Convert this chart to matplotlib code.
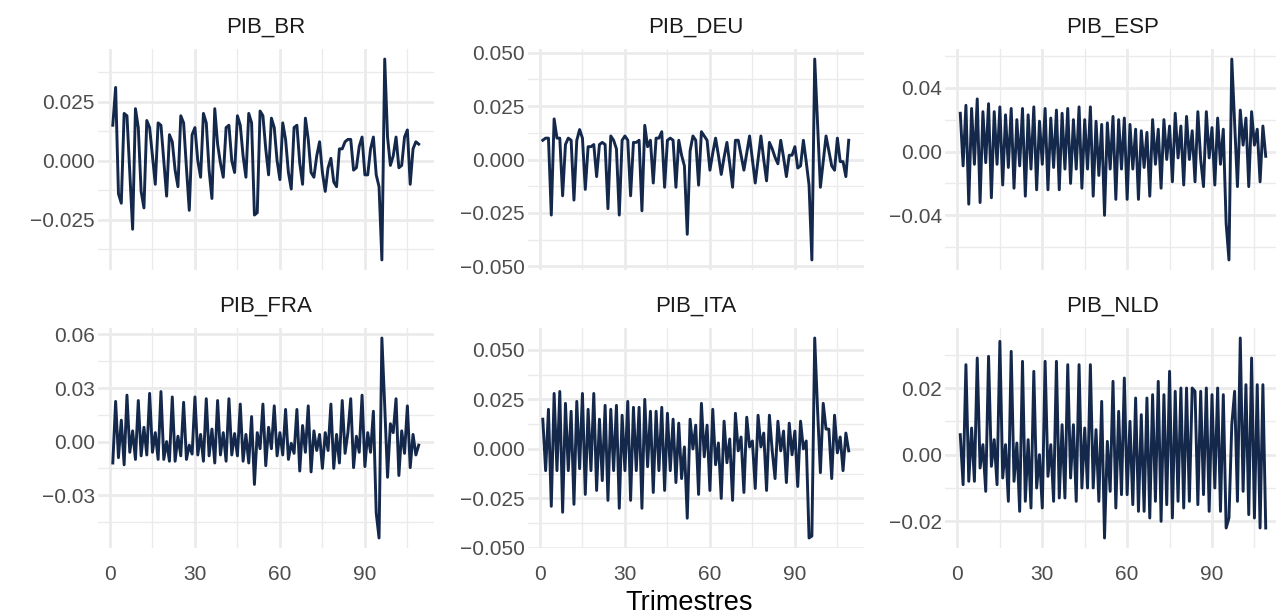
import matplotlib
matplotlib.use("Agg")
import matplotlib.pyplot as plt
from matplotlib.ticker import FixedLocator, FuncFormatter

plt.rcParams['font.family'] = ['Liberation Sans', 'DejaVu Sans']

# quarterly GDP growth (log-diff) by country, t = 1..109
pib_br = [0.015, 0.031, -0.014, -0.018, 0.020, 0.019, -0.005, -0.029, 0.022, 0.014,
          -0.013, -0.020, 0.017, 0.014, 0.002, -0.010, 0.016, 0.015, 0.000, -0.015,
          0.011, 0.008, -0.004, -0.011, 0.019, 0.016, -0.003, -0.021, 0.011, 0.014,
          0.000, -0.007, 0.020, 0.016, -0.004, -0.016, 0.022, 0.007, -0.001, -0.007,
          0.014, 0.015, 0.000, -0.005, 0.019, 0.015, 0.002, -0.007, 0.020, 0.016,
          -0.023, -0.022, 0.021, 0.019, 0.005, -0.006, 0.018, 0.014, 0.000, -0.008,
          0.016, 0.009, -0.005, -0.012, 0.014, 0.015, -0.001, -0.010, 0.018, 0.009,
          -0.005, -0.007, 0.002, 0.008, -0.005, -0.013, -0.003, 0.001, -0.009, -0.011,
          0.005, 0.005, 0.008, 0.009, 0.009, -0.004, -0.003, 0.006, 0.010, -0.006,
          -0.006, 0.005, 0.010, -0.006, -0.011, -0.042, 0.043, 0.010, -0.002, 0.002,
          0.010, -0.003, -0.002, 0.010, 0.013, -0.010, 0.005, 0.008, 0.007]

pib_deu = [0.009, 0.010, 0.010, -0.026, 0.019, 0.010, 0.010, -0.017, 0.007, 0.010,
           0.009, -0.019, 0.009, 0.014, 0.010, -0.014, 0.006, 0.006, 0.007, -0.008,
           0.007, 0.008, 0.007, -0.023, 0.011, 0.009, 0.005, -0.026, 0.009, 0.011,
           0.009, -0.017, 0.008, 0.008, 0.009, -0.024, 0.016, 0.006, 0.009, -0.011,
           0.010, 0.010, 0.013, -0.013, 0.009, 0.010, 0.009, -0.013, 0.009, 0.002,
           -0.003, -0.035, 0.004, 0.011, 0.009, -0.012, 0.013, 0.011, 0.009, -0.005,
           0.003, 0.010, 0.002, -0.007, 0.001, 0.008, -0.002, -0.013, 0.009, 0.009,
           0.002, -0.005, 0.003, 0.011, 0.000, -0.011, 0.000, 0.011, 0.000, -0.010,
           0.008, 0.005, 0.001, -0.002, 0.009, 0.001, -0.008, 0.002, 0.002, 0.006,
           -0.004, -0.003, 0.009, -0.001, -0.012, -0.047, 0.047, 0.017, -0.013, -0.001,
           0.011, 0.004, -0.003, -0.005, 0.010, -0.001, -0.001, -0.008, 0.009]

pib_esp = [0.024, -0.009, 0.029, -0.033, 0.027, -0.008, 0.033, -0.032, 0.025, -0.007,
           0.030, -0.029, 0.025, -0.008, 0.028, -0.021, 0.023, -0.010, 0.027, -0.023,
           0.020, -0.009, 0.027, -0.028, 0.023, -0.011, 0.028, -0.024, 0.019, -0.008,
           0.027, -0.024, 0.021, -0.010, 0.026, -0.024, 0.024, -0.011, 0.027, -0.020,
           0.020, -0.011, 0.028, -0.023, 0.020, -0.011, 0.028, -0.028, 0.019, -0.015,
           0.017, -0.040, 0.018, -0.011, 0.022, -0.030, 0.020, -0.011, 0.021, -0.030,
           0.017, -0.011, 0.014, -0.030, 0.013, -0.010, 0.012, -0.028, 0.020, -0.008,
           0.014, -0.023, 0.020, -0.005, 0.016, -0.019, 0.024, -0.004, 0.016, -0.021,
           0.022, -0.005, 0.013, -0.019, 0.025, -0.005, -0.022, 0.025, -0.004, 0.015,
           -0.021, 0.021, -0.008, 0.014, -0.045, -0.068, 0.058, 0.018, -0.022, 0.026,
           0.004, 0.021, -0.022, 0.025, 0.004, 0.014, -0.019, 0.016, -0.003]

pib_fra = [-0.012, 0.0225, -0.009, 0.012, -0.013, 0.026, -0.006, 0.006, -0.010, 0.023,
           -0.008, 0.008, -0.0075, 0.027, -0.006, 0.005, -0.010, 0.028, -0.010, 0.000,
           -0.011, 0.025, -0.011, 0.003, -0.008, 0.022, -0.010, -0.002, -0.007, 0.025,
           -0.0075, 0.004, -0.011, 0.024, -0.008, 0.007, -0.012, 0.023, -0.0075, 0.005,
           -0.011, 0.024, -0.0075, 0.0045, -0.008, 0.021, -0.011, 0.004, -0.012, 0.014,
           -0.024, 0.005, -0.004, 0.021, -0.0135, 0.008, -0.004, 0.020, -0.008, 0.005,
           -0.0075, 0.018, -0.010, -0.001, -0.0066, 0.018, -0.0165, 0.009, -0.006, 0.020,
           -0.017, 0.006, -0.005, 0.004, -0.015, 0.005, -0.005, 0.021, -0.015, 0.004,
           -0.012, 0.023, -0.0066, 0.005, 0.024, -0.0146, 0.003, -0.006, 0.026, -0.014,
           0.005, -0.006, 0.017, -0.040, -0.054, 0.058, 0.020, -0.020, 0.010, 0.005,
           0.024, -0.019, 0.006, -0.0066, 0.020, -0.0146, 0.004, -0.0075, -0.002]

pib_ita = [0.015, -0.011, 0.020, -0.029, 0.028, -0.011, 0.029, -0.032, 0.023, -0.011,
           0.019, -0.028, 0.024, -0.010, 0.028, -0.023, 0.020, -0.011, 0.028, -0.021,
           0.015, -0.016, 0.022, -0.026, 0.020, -0.011, 0.022, -0.030, 0.017, -0.011,
           0.024, -0.026, 0.021, -0.011, 0.021, -0.030, 0.025, -0.009, 0.019, -0.022,
           0.019, -0.011, 0.021, -0.021, 0.018, -0.011, 0.015, -0.017, 0.013, -0.015,
           0.001, -0.035, 0.015, 0.000, 0.012, -0.023, 0.023, -0.004, 0.012, -0.021,
           0.020, -0.008, 0.003, -0.025, 0.014, -0.007, 0.005, -0.026, 0.018, -0.001,
           0.006, -0.022, 0.016, 0.001, 0.004, -0.020, 0.017, 0.001, 0.008, -0.021,
           0.017, -0.001, -0.015, 0.014, -0.001, 0.009, -0.017, 0.013, -0.003, 0.009,
           -0.019, 0.014, 0.000, 0.004, -0.045, -0.044, 0.056, 0.020, -0.012, 0.023,
           0.010, 0.010, -0.015, 0.017, -0.002, 0.006, -0.011, 0.008, -0.001]

pib_nld = [0.006, -0.009, 0.027, -0.008, 0.008, -0.008, 0.029, -0.004, 0.003, -0.011,
           0.0295, -0.0035, 0.0045, -0.009, 0.034, -0.007, 0.003, -0.014, 0.031, -0.008,
           0.0035, -0.017, 0.028, -0.014, 0.0045, -0.016, 0.025, -0.010, 0.000, -0.016,
           0.028, -0.0065, 0.003, -0.014, 0.028, -0.013, 0.009, -0.013, 0.027, -0.007,
           0.009, -0.014, 0.027, -0.010, 0.008, -0.010, 0.027, -0.010, 0.0075, -0.014,
           0.016, -0.025, 0.004, -0.011, 0.022, -0.016, 0.013, -0.012, 0.023, -0.012,
           0.010, -0.015, 0.017, -0.017, 0.012, -0.017, 0.017, -0.019, 0.018, -0.014,
           0.022, -0.020, 0.018, -0.015, 0.025, -0.019, 0.019, -0.014, 0.020, -0.016,
           0.020, -0.014, 0.020, 0.019, -0.015, 0.019, -0.012, 0.020, -0.017, 0.018,
           -0.010, 0.020, -0.017, 0.018, -0.022, -0.019, 0.009, 0.019, -0.014, 0.035,
           -0.011, 0.021, -0.018, 0.029, -0.019, 0.021, -0.022, 0.021, -0.022]

trimestre = list(range(1, len(pib_br) + 1))

series = [("PIB_BR", pib_br), ("PIB_DEU", pib_deu), ("PIB_ESP", pib_esp),
          ("PIB_FRA", pib_fra), ("PIB_ITA", pib_ita), ("PIB_NLD", pib_nld)]

# y breaks, minor step and label decimals per facet
y_breaks = {
    "PIB_BR": ([-0.025, 0.0, 0.025], 0.0125, 3),
    "PIB_DEU": ([-0.05, -0.025, 0.0, 0.025, 0.05], 0.0125, 3),
    "PIB_ESP": ([-0.04, 0.0, 0.04], 0.02, 2),
    "PIB_FRA": ([-0.03, 0.0, 0.03, 0.06], 0.015, 2),
    "PIB_ITA": ([-0.05, -0.025, 0.0, 0.025, 0.05], 0.0125, 3),
    "PIB_NLD": ([-0.02, 0.0, 0.02], 0.01, 2),
}
x_major = [0, 30, 60, 90]
x_minor = [15, 45, 75, 105]

W, H = 1276, 615
cols = [(97.5, 434), (527.5, 864), (945, 1281)]
rows = [(49, 270), (328, 548)]

line_col = "#14284B"
grid_col = "#EBEBEB"

fig = plt.figure(figsize=(W / 100, H / 100), dpi=100)


def fmt(dec):
    return FuncFormatter(lambda v, p: f"{v:.{dec}f}".replace("-", "\u2212"))


for i, (name, vals) in enumerate(series):
    r, c = divmod(i, 3)
    x0, x1 = cols[c]
    y0, y1 = rows[r]
    ax = fig.add_axes([x0 / W, 1 - y1 / H, (x1 - x0) / W, (y1 - y0) / H])
    ax.plot(trimestre, vals, color=line_col, lw=2.1, solid_joinstyle="round", zorder=3)

    majors, step, dec = y_breaks[name]
    lo, hi = ax.get_ylim()
    minors = [m + step for m in [majors[0] - 2 * step] + majors]
    minors = [m for m in minors if lo <= m <= hi and m not in majors]
    ax.yaxis.set_major_locator(FixedLocator(majors))
    ax.yaxis.set_minor_locator(FixedLocator(minors))
    ax.yaxis.set_major_formatter(fmt(dec))
    ax.xaxis.set_major_locator(FixedLocator(x_major))
    ax.xaxis.set_minor_locator(FixedLocator(x_minor))

    ax.grid(True, which="major", color=grid_col, lw=2.0, zorder=0)
    ax.grid(True, which="minor", color=grid_col, lw=1.0, zorder=0)
    ax.set_axisbelow(True)
    for s in ax.spines.values():
        s.set_visible(False)
    ax.tick_params(which="both", length=0, labelsize=15, labelcolor="#4D4D4D")
    ax.tick_params(axis="y", pad=2)
    ax.tick_params(axis="x", pad=12)
    if r == 0:
        ax.tick_params(axis="x", labelbottom=False)
    ax.set_title(name, fontsize=16, color="#1A1A1A", pad=12)

fig.text(689 / W, 1 - 603 / H, "Trimestres", ha="center", va="center",
         fontsize=19.5, color="black")

fig.savefig("out.png", dpi=100)
